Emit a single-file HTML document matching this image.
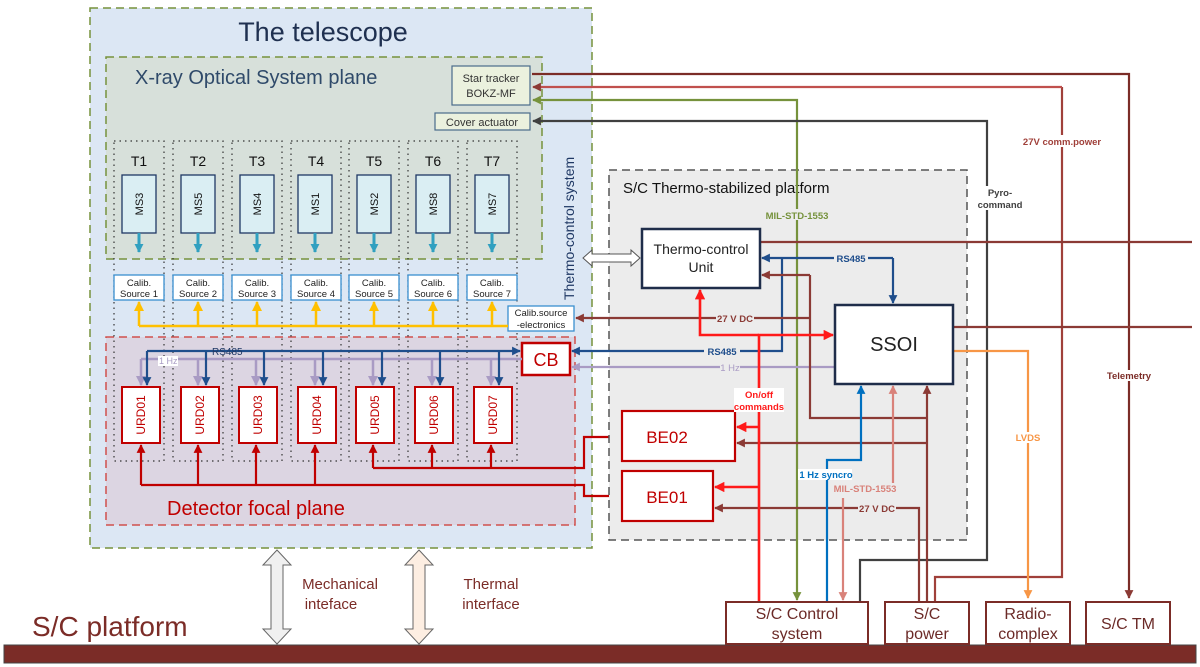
<!DOCTYPE html>
<html><head><meta charset="utf-8"><style>
html,body{margin:0;padding:0;background:#fff;}
svg{display:block;font-family:"Liberation Sans",Arial,sans-serif;}
</style></head><body>
<svg width="1200" height="667" viewBox="0 0 1200 667" xmlns="http://www.w3.org/2000/svg">
<defs>
<marker id="aR" viewBox="0 0 10 10" refX="9" refY="5" markerWidth="4" markerHeight="4" orient="auto-start-reverse"><path d="M0,0L10,5L0,10z" fill="#ff1a1a"/></marker>
<marker id="aDR" viewBox="0 0 10 10" refX="9" refY="5" markerWidth="4" markerHeight="4" orient="auto-start-reverse"><path d="M0,0L10,5L0,10z" fill="#8b3a35"/></marker>
<marker id="aCR" viewBox="0 0 10 10" refX="9" refY="5" markerWidth="4" markerHeight="4" orient="auto-start-reverse"><path d="M0,0L10,5L0,10z" fill="#c00000"/></marker>
<marker id="aB" viewBox="0 0 10 10" refX="9" refY="5" markerWidth="4" markerHeight="4" orient="auto-start-reverse"><path d="M0,0L10,5L0,10z" fill="#1f4e8c"/></marker>
<marker id="aLB" viewBox="0 0 10 10" refX="9" refY="5" markerWidth="4" markerHeight="4" orient="auto-start-reverse"><path d="M0,0L10,5L0,10z" fill="#0070c0"/></marker>
<marker id="aP" viewBox="0 0 10 10" refX="9" refY="5" markerWidth="4" markerHeight="4" orient="auto-start-reverse"><path d="M0,0L10,5L0,10z" fill="#a99bc4"/></marker>
<marker id="aG" viewBox="0 0 10 10" refX="9" refY="5" markerWidth="4" markerHeight="4" orient="auto-start-reverse"><path d="M0,0L10,5L0,10z" fill="#76923c"/></marker>
<marker id="aK" viewBox="0 0 10 10" refX="9" refY="5" markerWidth="4" markerHeight="4" orient="auto-start-reverse"><path d="M0,0L10,5L0,10z" fill="#404040"/></marker>
<marker id="aO" viewBox="0 0 10 10" refX="9" refY="5" markerWidth="4" markerHeight="4" orient="auto-start-reverse"><path d="M0,0L10,5L0,10z" fill="#f79646"/></marker>
<marker id="aPk" viewBox="0 0 10 10" refX="9" refY="5" markerWidth="4" markerHeight="4" orient="auto-start-reverse"><path d="M0,0L10,5L0,10z" fill="#d9827a"/></marker>
<marker id="aY" viewBox="0 0 10 10" refX="9" refY="5" markerWidth="4" markerHeight="4" orient="auto-start-reverse"><path d="M0,0L10,5L0,10z" fill="#ffc000"/></marker>
<marker id="aT" viewBox="0 0 10 10" refX="9" refY="5" markerWidth="3" markerHeight="3" orient="auto"><path d="M0,0L10,5L0,10z" fill="#31a0c0"/></marker>
</defs>

<!-- Telescope -->
<rect x="90" y="8" width="502" height="540" fill="#dce7f4" stroke="#76923c" stroke-width="1.5" stroke-dasharray="8,5"/>
<text x="323" y="41" font-size="27" fill="#1f3050" text-anchor="middle">The telescope</text>
<rect x="106" y="57" width="436" height="202" fill="#d7e0da" stroke="#76923c" stroke-width="1.5" stroke-dasharray="8,5"/>
<text x="135" y="84" font-size="20" fill="#2f4a6a">X-ray Optical System plane</text>
<rect x="452" y="66" width="78" height="39" fill="#ebf1de" stroke="#4a6b8a" stroke-width="1.2"/>
<text x="491" y="82" font-size="11" text-anchor="middle" fill="#333">Star tracker</text>
<text x="491" y="97" font-size="11" text-anchor="middle" fill="#333">BOKZ-MF</text>
<rect x="435" y="113" width="95" height="17" fill="#ebf1de" stroke="#4a6b8a" stroke-width="1.2"/>
<text x="482" y="126" font-size="11" text-anchor="middle" fill="#333">Cover actuator</text>

<!-- Detector plane -->
<rect x="106" y="337" width="469" height="188" fill="#dcd5e2" stroke="#d0504d" stroke-width="1.5" stroke-dasharray="8,5"/>
<text x="167" y="515" font-size="20" fill="#c00000">Detector focal plane</text>

<!-- Columns -->
<g fill="none" stroke="#333" stroke-width="1.2" stroke-dasharray="1.5,4">
<rect x="114" y="141" width="50" height="320"/><rect x="173" y="141" width="50" height="320"/>
<rect x="232" y="141" width="50" height="320"/><rect x="291" y="141" width="50" height="320"/>
<rect x="349" y="141" width="50" height="320"/><rect x="408" y="141" width="50" height="320"/>
<rect x="467" y="141" width="50" height="320"/>
</g>
<g font-size="14" fill="#111" text-anchor="middle">
<text x="139" y="166">T1</text><text x="198" y="166">T2</text><text x="257" y="166">T3</text><text x="316" y="166">T4</text><text x="374" y="166">T5</text><text x="433" y="166">T6</text><text x="492" y="166">T7</text>
</g>
<!-- MS boxes -->
<g fill="#daeef3" stroke="#1f3864" stroke-width="1.3">
<rect x="122" y="175" width="34" height="58"/><rect x="181" y="175" width="34" height="58"/><rect x="240" y="175" width="34" height="58"/><rect x="298" y="175" width="34" height="58"/><rect x="357" y="175" width="34" height="58"/><rect x="416" y="175" width="34" height="58"/><rect x="475" y="175" width="34" height="58"/>
</g>
<g font-size="11" fill="#111" text-anchor="middle">
<text transform="translate(143,204) rotate(-90)">MS3</text><text transform="translate(202,204) rotate(-90)">MS5</text><text transform="translate(261,204) rotate(-90)">MS4</text><text transform="translate(319,204) rotate(-90)">MS1</text><text transform="translate(378,204) rotate(-90)">MS2</text><text transform="translate(437,204) rotate(-90)">MS8</text><text transform="translate(496,204) rotate(-90)">MS7</text>
</g>
<g stroke="#31a0c0" stroke-width="3" marker-end="url(#aT)">
<line x1="139" y1="233" x2="139" y2="252"/><line x1="198" y1="233" x2="198" y2="252"/><line x1="257" y1="233" x2="257" y2="252"/><line x1="315" y1="233" x2="315" y2="252"/><line x1="374" y1="233" x2="374" y2="252"/><line x1="433" y1="233" x2="433" y2="252"/><line x1="492" y1="233" x2="492" y2="252"/>
</g>
<!-- Calib -->
<g fill="#fff" stroke="#3a8fd0" stroke-width="1.3">
<rect x="114" y="275" width="50" height="25"/><rect x="173" y="275" width="50" height="25"/><rect x="232" y="275" width="50" height="25"/><rect x="291" y="275" width="50" height="25"/><rect x="349" y="275" width="50" height="25"/><rect x="408" y="275" width="50" height="25"/><rect x="467" y="275" width="50" height="25"/>
<rect x="508" y="306" width="66" height="25"/>
</g>
<g font-size="9.5" fill="#222" text-anchor="middle">
<text x="139" y="286">Calib.</text><text x="139" y="297">Source 1</text>
<text x="198" y="286">Calib.</text><text x="198" y="297">Source 2</text>
<text x="257" y="286">Calib.</text><text x="257" y="297">Source 3</text>
<text x="316" y="286">Calib.</text><text x="316" y="297">Source 4</text>
<text x="374" y="286">Calib.</text><text x="374" y="297">Source 5</text>
<text x="433" y="286">Calib.</text><text x="433" y="297">Source 6</text>
<text x="492" y="286">Calib.</text><text x="492" y="297">Source 7</text>
<text x="541" y="316">Calib.source</text><text x="541" y="328">-electronics</text>
</g>
<g stroke="#ffc000" stroke-width="2.5" fill="none">
<line x1="139" y1="326" x2="508" y2="326"/>
<g marker-end="url(#aY)"><line x1="139" y1="326" x2="139" y2="302"/><line x1="198" y1="326" x2="198" y2="302"/><line x1="257" y1="326" x2="257" y2="302"/><line x1="316" y1="326" x2="316" y2="302"/><line x1="374" y1="326" x2="374" y2="302"/><line x1="433" y1="326" x2="433" y2="302"/><line x1="492" y1="326" x2="492" y2="302"/></g>
</g>
<text transform="translate(574,300) rotate(-90)" font-size="14" fill="#1f3864">Thermo-control system</text>

<!-- CB -->
<rect x="522" y="343" width="48" height="32" fill="#fff" stroke="#c00000" stroke-width="2.5"/>
<text x="546" y="366" font-size="18" text-anchor="middle" fill="#c00000">CB</text>
<!-- 1Hz purple bus -->
<g stroke="#a99bc4" stroke-width="2.5" fill="none">
<line x1="141" y1="359" x2="522" y2="359"/>
<g marker-end="url(#aP)"><line x1="141" y1="359" x2="141" y2="385"/><line x1="198" y1="359" x2="198" y2="385"/><line x1="256" y1="359" x2="256" y2="385"/><line x1="315" y1="359" x2="315" y2="385"/><line x1="373" y1="359" x2="373" y2="385"/><line x1="432" y1="359" x2="432" y2="385"/><line x1="491" y1="359" x2="491" y2="385"/></g>
</g>
<!-- RS485 blue bus -->
<g stroke="#1f4e8c" stroke-width="2.2" fill="none">
<line x1="147" y1="351" x2="520" y2="351" marker-end="url(#aB)"/>
<g marker-end="url(#aB)"><line x1="147" y1="351" x2="147" y2="385"/><line x1="206" y1="351" x2="206" y2="385"/><line x1="264" y1="351" x2="264" y2="385"/><line x1="323" y1="351" x2="323" y2="385"/><line x1="382" y1="351" x2="382" y2="385"/><line x1="440" y1="351" x2="440" y2="385"/><line x1="499" y1="351" x2="499" y2="385"/></g>
</g>
<text x="212" y="355" font-size="10" fill="#1f3864">RS485</text>
<rect x="158" y="356" width="20" height="10" fill="#fff"/><text x="159" y="364" font-size="9" fill="#a99bc4">1 Hz</text>

<!-- URDs -->
<g fill="#fff" stroke="#c00000" stroke-width="2">
<rect x="122" y="387" width="38" height="56"/><rect x="181" y="387" width="38" height="56"/><rect x="239" y="387" width="38" height="56"/><rect x="298" y="387" width="38" height="56"/><rect x="356" y="387" width="38" height="56"/><rect x="415" y="387" width="38" height="56"/><rect x="474" y="387" width="38" height="56"/>
</g>
<g font-size="12" fill="#c00000" text-anchor="middle">
<text transform="translate(145,415) rotate(-90)">URD01</text><text transform="translate(204,415) rotate(-90)">URD02</text><text transform="translate(262,415) rotate(-90)">URD03</text><text transform="translate(321,415) rotate(-90)">URD04</text><text transform="translate(379,415) rotate(-90)">URD05</text><text transform="translate(438,415) rotate(-90)">URD06</text><text transform="translate(497,415) rotate(-90)">URD07</text>
</g>
<g stroke="#c00000" stroke-width="2.2" fill="none">
<polyline points="141,485 584,485 584,496 620,496" marker-end="url(#aCR)"/>
<g marker-end="url(#aCR)"><line x1="141" y1="485" x2="141" y2="445"/><line x1="198" y1="485" x2="198" y2="445"/><line x1="256" y1="485" x2="256" y2="445"/><line x1="315" y1="485" x2="315" y2="445"/></g>
<polyline points="373,468 584,468 584,437 620,437" marker-end="url(#aCR)"/>
<g marker-end="url(#aCR)"><line x1="373" y1="468" x2="373" y2="445"/><line x1="432" y1="468" x2="432" y2="445"/><line x1="491" y1="468" x2="491" y2="445"/></g>
</g>

<!-- Thermo platform -->
<rect x="609" y="170" width="358" height="370" fill="#ececec" stroke="#555" stroke-width="1.5" stroke-dasharray="8,5"/>
<text x="623" y="193" font-size="15" fill="#111">S/C Thermo-stabilized   platform</text>

<!-- double white arrow -->
<path d="M583,258 L592,250 L592,254 L631,254 L631,250 L640,258 L631,266 L631,262 L592,262 L592,266 Z" fill="#fff" stroke="#555" stroke-width="1"/>

<!-- Platform -->
<rect x="4" y="645" width="1192" height="18" fill="#7b2c27" stroke="#444" stroke-width="1"/>
<text x="32" y="636" font-size="28" fill="#7b2c27">S/C platform</text>
<!-- interfaces -->
<path d="M277,550 L291,565 L283,565 L283,629 L291,629 L277,644 L263,629 L271,629 L271,565 L263,565 Z" fill="#f0f0f0" stroke="#666" stroke-width="1"/>
<path d="M419,550 L433,565 L425,565 L425,629 L433,629 L419,644 L405,629 L413,629 L413,565 L405,565 Z" fill="#fdeee2" stroke="#666" stroke-width="1"/>
<g font-size="15" fill="#7b2c27" text-anchor="middle">
<text x="340" y="589">Mechanical</text><text x="331" y="609">inteface</text>
<text x="491" y="589">Thermal</text><text x="491" y="609">interface</text>
</g>

<!-- Long lines -->
<g fill="none" stroke-width="2.2">
<polyline points="532,74 1129,74 1129,598" stroke="#7b2c27" marker-end="url(#aDR)"/>
<polyline points="1062,87 1062,577 935,577 935,602" stroke="#a0403a"/>
<line x1="1062" y1="87" x2="533" y2="87" stroke="#c0504d" marker-end="url(#aDR)"/>
<polyline points="797,600 797,100 533,100" stroke="#76923c" marker-end="url(#aG)" marker-start="url(#aG)"/>
<polyline points="860,602 860,560 987,560 987,121 533,121" stroke="#404040" marker-end="url(#aK)"/>
<line x1="760" y1="242" x2="1192" y2="242" stroke="#8b3a35"/>
<line x1="953" y1="327" x2="1192" y2="327" stroke="#8b3a35"/>
<polyline points="953,351 1028,351 1028,598" stroke="#f79646" marker-end="url(#aO)"/>
<!-- RS485 -->
<polyline points="893,258 893,303" stroke="#1f4e8c" marker-end="url(#aB)"/>
<line x1="893" y1="258" x2="762" y2="258" stroke="#1f4e8c" marker-end="url(#aB)"/>
<polyline points="782,258 782,351 572,351" stroke="#1f4e8c" marker-end="url(#aB)"/>
<!-- 1 Hz -->
<line x1="835" y1="367" x2="572" y2="367" stroke="#a99bc4" marker-end="url(#aP)"/>
<!-- 27V into TCU -->
<line x1="810" y1="275" x2="762" y2="275" stroke="#8b3a35" marker-end="url(#aDR)"/>
<polyline points="810,275 810,418 927,418" stroke="#8b3a35"/>
<line x1="810" y1="318" x2="576" y2="318" stroke="#8b3a35" marker-end="url(#aDR)"/>
<line x1="927" y1="602" x2="927" y2="386" stroke="#8b3a35" marker-end="url(#aDR)"/>
<line x1="927" y1="443" x2="737" y2="443" stroke="#8b3a35" marker-end="url(#aDR)"/>
<polyline points="919,602 919,508 715,508" stroke="#8b3a35" marker-end="url(#aDR)"/>
<!-- red on/off -->
<polyline points="759,602 759,335 833,335" stroke="#ff1a1a" stroke-width="2.6" marker-end="url(#aR)"/>
<polyline points="759,335 700,335 700,290" stroke="#ff1a1a" stroke-width="2.6" marker-end="url(#aR)"/>
<line x1="759" y1="427" x2="737" y2="427" stroke="#ff1a1a" stroke-width="2.6" marker-end="url(#aR)"/>
<line x1="759" y1="487" x2="715" y2="487" stroke="#ff1a1a" stroke-width="2.6" marker-end="url(#aR)"/>
<!-- 1Hz syncro -->
<polyline points="827,602 827,460 861,460 861,386" stroke="#0070c0" marker-end="url(#aLB)"/>
<!-- pink MIL -->
<line x1="893" y1="488" x2="893" y2="386" stroke="#d9827a" marker-end="url(#aPk)"/>
<line x1="843" y1="498" x2="843" y2="600" stroke="#d9827a" marker-end="url(#aPk)"/>
</g>

<!-- TCU, SSOI, BE -->
<rect x="642" y="229" width="118" height="59" fill="#fff" stroke="#1f2d4a" stroke-width="2.5"/>
<text x="701" y="254" font-size="14" text-anchor="middle" fill="#222">Thermo-control</text>
<text x="701" y="272" font-size="14" text-anchor="middle" fill="#222">Unit</text>
<rect x="835" y="305" width="118" height="79" fill="#fff" stroke="#1f2d4a" stroke-width="2.5"/>
<text x="894" y="351" font-size="20" text-anchor="middle" fill="#222">SSOI</text>
<rect x="622" y="411" width="113" height="50" fill="#fff" stroke="#c00000" stroke-width="2.2"/>
<text x="667" y="443" font-size="17" text-anchor="middle" fill="#c00000">BE02</text>
<rect x="622" y="471" width="91" height="50" fill="#fff" stroke="#c00000" stroke-width="2.2"/>
<text x="667" y="503" font-size="17" text-anchor="middle" fill="#c00000">BE01</text>

<!-- labels -->
<g font-size="9.5" font-weight="bold" text-anchor="middle">
<rect x="762" y="209" width="68" height="11" fill="#ececec"/><text x="797" y="219" fill="#76923c">MIL-STD-1553</text>
<rect x="976" y="186" width="48" height="24" fill="#fff"/><text x="1000" y="196" fill="#404040">Pyro-</text><text x="1000" y="208" fill="#404040">command</text>
<rect x="1025" y="135" width="76" height="12" fill="#fff"/><text x="1062" y="145" fill="#a0403a">27V comm.power</text>
<rect x="1106" y="370" width="46" height="11" fill="#fff"/><text x="1129" y="379" fill="#7b2c27">Telemetry</text>
<rect x="1015" y="432" width="26" height="11" fill="#fff"/><text x="1028" y="441" fill="#f79646">LVDS</text>
<rect x="834" y="253" width="34" height="11" fill="#ececec"/><text x="851" y="262" fill="#1f4e8c">RS485</text>
<rect x="704" y="346" width="36" height="11" fill="#ececec"/><text x="722" y="355" fill="#1f4e8c">RS485</text>
<rect x="716" y="313" width="38" height="11" fill="#ececec"/><text x="735" y="322" fill="#8b3a35">27 V DC</text>
<rect x="720" y="362" width="20" height="11" fill="#ececec"/><text x="730" y="371" fill="#a99bc4" font-weight="normal">1 Hz</text>
<rect x="734" y="388" width="50" height="24" fill="#fff"/><text x="759" y="398" fill="#ff1a1a">On/off</text><text x="759" y="410" fill="#ff1a1a">commands</text>
<rect x="798" y="469" width="54" height="11" fill="#fff"/><text x="826" y="478" fill="#0070c0">1 Hz syncro</text>
<rect x="833" y="483" width="64" height="11" fill="#ececec"/><text x="865" y="492" fill="#d9827a">MIL-STD-1553</text>
<rect x="858" y="503" width="38" height="11" fill="#ececec"/><text x="877" y="512" fill="#8b3a35">27 V DC</text>
</g>

<!-- bottom boxes -->
<g fill="#fff" stroke="#7b2c27" stroke-width="2">
<rect x="726" y="602" width="142" height="42"/><rect x="885" y="602" width="84" height="42"/><rect x="986" y="602" width="84" height="42"/><rect x="1086" y="602" width="84" height="42"/>
</g>
<g font-size="16" fill="#6b2a27" text-anchor="middle">
<text x="797" y="619">S/C Control</text><text x="797" y="639">system</text>
<text x="927" y="619">S/C</text><text x="927" y="639">power</text>
<text x="1028" y="619">Radio-</text><text x="1028" y="639">complex</text>
<text x="1128" y="629">S/C TM</text>
</g>
</svg>
</body></html>
